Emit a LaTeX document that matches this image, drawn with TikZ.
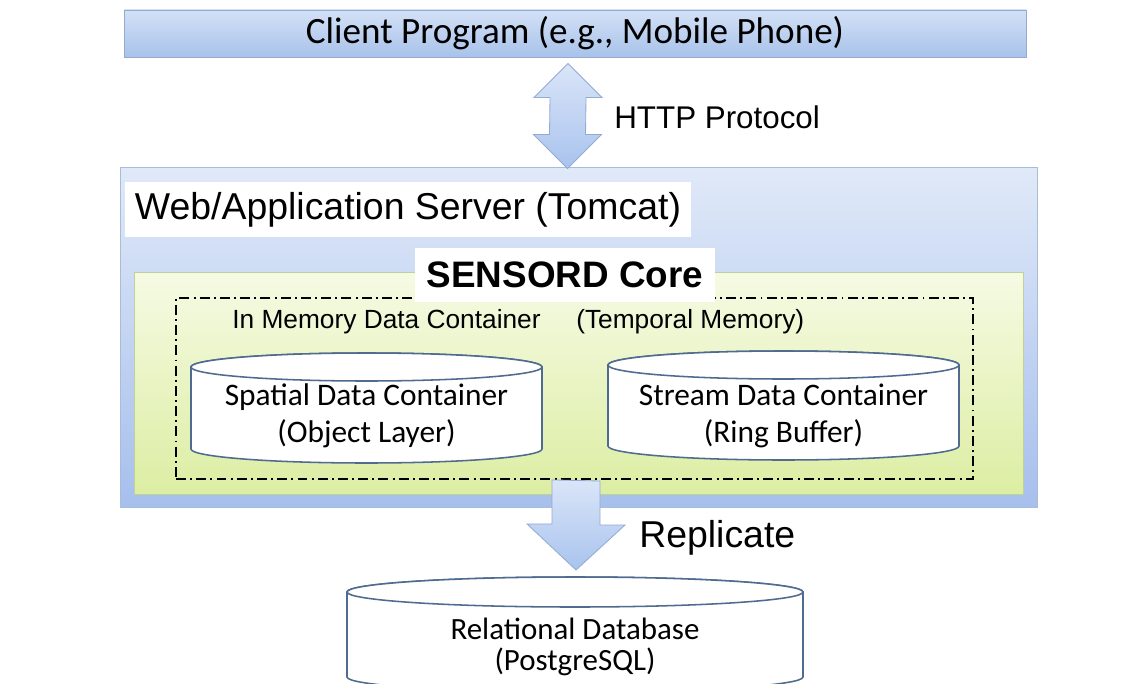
\documentclass[tikz,border=0pt]{standalone}
\usepackage{fontspec}
\setmainfont{Liberation Sans}
\newfontfamily\calibri{Carlito}
\usepackage{tikz}
\usetikzlibrary{fit,calc}

\definecolor{clientTop}{HTML}{D3E1F6}
\definecolor{clientBot}{HTML}{A8C2EA}
\definecolor{serverTop}{HTML}{E0E9F8}
\definecolor{serverMid}{HTML}{D2DEF5}
\definecolor{serverBot}{HTML}{A6BFEC}
\definecolor{coreTop}{HTML}{F6FAE4}
\definecolor{coreBot}{HTML}{DCEEA3}
\definecolor{arrowTop}{HTML}{DAE5F8}
\definecolor{arrowBot}{HTML}{A9C3EE}
\definecolor{edgeBlue}{HTML}{93ABD2}
\definecolor{edgeGreen}{HTML}{BFD197}
\definecolor{tankLine}{HTML}{4F6B90}

\begin{document}
\begin{tikzpicture}[x=0.025cm, y=-0.025cm,
    box/.style={draw=edgeBlue, line width=0.7pt, inner sep=0pt},
    whitelbl/.style={fill=white, inner sep=0pt},
    blockarrow/.style={draw=edgeBlue, line width=0.6pt, top color=arrowTop, bottom color=arrowBot},
    tank/.style={draw=tankLine, line width=1.1pt, fill=white},
    txt/.style={inner sep=0pt},
    bigfont/.style={font=\fontsize{26.6}{31}\selectfont},
    tankfont/.style={font=\calibri\fontsize{22.3}{26}\selectfont, align=center, inner sep=0pt}]
    \useasboundingbox (0,0) rectangle (1141,683);

    % Client
    \node[box, fit={(124,10) (1026,57)}, top color=clientTop, bottom color=clientBot] (client) {};
    \node[txt, font=\calibri\fontsize{26.4}{30}\selectfont] (clientlbl) at (client.center) {Client Program (e.g., Mobile Phone)};

    % Server and core
    \node[box, draw=edgeBlue!80, fit={(120,167) (1037,507)}, top color=serverTop, middle color=serverMid, bottom color=serverBot] (server) {};
    \node[whitelbl, fit={(125,182) (691,237)}] (serverbg) {};
    \node[txt, bigfont] (serverlbl) at (serverbg.center) {Web/Application Server (Tomcat)};
    \node[box, draw=edgeGreen, fit={(134,272) (1023,494)}, top color=coreTop, bottom color=coreBot] (core) {};
    \node[inner sep=0pt, draw=black, line width=1.3pt, dash pattern=on 7pt off 3pt on 1.4pt off 3pt,
          fit={(176,298) (973,479)}] (memory) {};
    \node[whitelbl, fit={(415,248) (715,302)}] (corebg) {};
    \node[txt, font=\bfseries\fontsize{26.2}{31}\selectfont] (corelbl) at (corebg.center) {SENSORD Core};

    \node[anchor=west, txt, font=\fontsize{18.7}{22}\selectfont] (memlbl) at (232,322) {In Memory Data Container};
    \node[anchor=west, txt, font=\fontsize{18.7}{22}\selectfont] (templbl) at (576,322) {(Temporal Memory)};

    % Containers
    \filldraw[tank] (191,367) -- (191,449) arc[start angle=180, end angle=0, x radius=175.5, y radius=14]
        -- (542,367) arc[start angle=0, end angle=-180, x radius=175.5, y radius=14] -- cycle;
    \draw[tank] (366.5,367) ellipse [x radius=175.5, y radius=14];
    \node[tankfont] (spatial) at (366.5,416) {Spatial Data Container\\(Object Layer)};

    \filldraw[tank] (608,365) -- (608,446) arc[start angle=180, end angle=0, x radius=175.5, y radius=14]
        -- (959,365) arc[start angle=0, end angle=-180, x radius=175.5, y radius=14] -- cycle;
    \draw[tank] (783.5,365) ellipse [x radius=175.5, y radius=14];
    \node[tankfont] (stream) at (783.5,416) {Stream Data Container\\(Ring Buffer)};

    % Database
    \filldraw[tank] (347,592) -- (347,677) arc[start angle=180, end angle=0, x radius=228, y radius=15]
        -- (803,592) arc[start angle=0, end angle=-180, x radius=228, y radius=15] -- cycle;
    \draw[tank] (575,592) ellipse [x radius=228, y radius=15];
    \node[tankfont, font=\calibri\fontsize{22}{22.5}\selectfont] (db) at (575,647) {Relational Database\\(PostgreSQL)};

    % HTTP arrow
    \coordinate (httpTop) at ($(client.south)+(-7,6)$);
    \coordinate (httpBot) at ($(server.north)+(-11,2)$);
    \draw[blockarrow] (httpTop) -- ++(34,34) -- ++(-16,0) -- ($(httpBot)+(18,-34)$) -- ++(16,0) -- (httpBot)
        -- ++(-34,-34) -- ++(16,0) -- ($(httpTop)+(-18,34)$) -- ++(-16,0) -- cycle;
    \node[anchor=west, txt, font=\fontsize{22.3}{26}\selectfont] (http) at (614,117) {HTTP Protocol};

    % Replicate arrow
    \coordinate (repTop) at (memory.south -| 576,0);
    \coordinate (repTip) at (576,570);
    \draw[blockarrow] (repTop) ++(-24,0) -- ++(0,44) -- ++(-25,0) -- (repTip) -- ++(49,-45) -- ++(-25,0) -- ++(0,-44) -- cycle;
    \node[anchor=west, txt, font=\fontsize{26.6}{31}\selectfont] (replicate) at (639,538) {Replicate};
\end{tikzpicture}
\end{document}
